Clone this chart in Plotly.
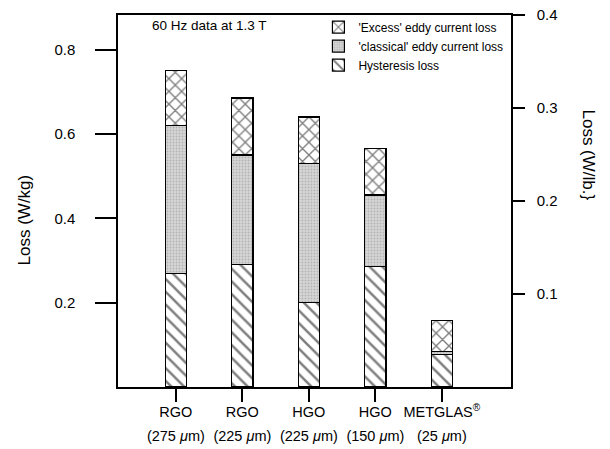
import plotly.graph_objects as go

materials = ["RGO", "RGO", "HGO", "HGO", "METGLAS<sup>®</sup>"]
thickness = ["(275 <i>μ</i>m)", "(225 <i>μ</i>m)", "(225 <i>μ</i>m)",
             "(150 <i>μ</i>m)", "(25 <i>μ</i>m)"]
hysteresis = [0.27, 0.29, 0.20, 0.285, 0.078]
classical = [0.35, 0.26, 0.33, 0.17, 0.006]
excess = [0.13, 0.135, 0.11, 0.11, 0.073]
left_ticks = [0.2, 0.4, 0.6, 0.8]
right_ticks = [0.1, 0.2, 0.3, 0.4]
KG_PER_LB = 2.2046

pos = list(range(len(materials)))
FONT = "Liberation Sans, Arial, sans-serif"
XRANGE = [-0.87, 5.04]

fig = go.Figure()
line = dict(color="black", width=1.2)
fig.add_trace(go.Bar(x=pos, y=hysteresis, name="Hysteresis loss", width=0.32,
                     marker=dict(color="white", line=line,
                                 pattern=dict(shape="\\", fgcolor="black", bgcolor="white",
                                              size=9, solidity=0.28))))
fig.add_trace(go.Bar(x=pos, y=classical, name="'classical' eddy current loss", width=0.32,
                     marker=dict(color="#d0d0d0", line=line,
                                 pattern=dict(shape=".", fgcolor="#8f8f8f", bgcolor="#d6d6d6",
                                              size=3, solidity=0.3))))
fig.add_trace(go.Bar(x=pos, y=excess, name="'Excess' eddy current loss", width=0.32,
                     marker=dict(color="white", line=line,
                                 pattern=dict(shape="x", fgcolor="black", bgcolor="white",
                                              size=9, solidity=0.28))))
# invisible traces so the right-hand (W/lb.) axis and second label row are drawn
fig.add_trace(go.Scatter(x=[None], y=[None], yaxis="y2", showlegend=False,
                         hoverinfo="skip", mode="markers"))
fig.add_trace(go.Scatter(x=[None], y=[None], xaxis="x2", showlegend=False,
                         hoverinfo="skip", mode="markers"))

top_kg = 0.4 * KG_PER_LB

fig.update_layout(
    width=610, height=449,
    margin=dict(l=118, r=99, t=15, b=62, autoexpand=False),
    paper_bgcolor="white", plot_bgcolor="white",
    barmode="stack",
    font=dict(family=FONT, color="black", size=13),
    showlegend=True,
    legend=dict(x=0.51, y=0.972, xanchor="left", yanchor="top", yref="container",
                traceorder="reversed", bgcolor="rgba(0,0,0,0)",
                font=dict(size=12, family=FONT)),
    xaxis=dict(range=XRANGE, tickvals=pos, ticktext=materials, automargin=False,
               showline=True, linecolor="black", linewidth=1.5, mirror=True,
               ticks="outside", ticklen=13, tickcolor="black", tickwidth=1.5,
               ticklabelstandoff=-2,
               showgrid=False, zeroline=False, tickfont=dict(size=14.5)),
    xaxis2=dict(range=XRANGE, tickvals=pos, ticktext=thickness, automargin=False,
                overlaying="x", side="bottom", anchor="y",
                showline=False, ticks="outside", ticklen=13, tickcolor="rgba(0,0,0,0)",
                ticklabelstandoff=23,
                showgrid=False, zeroline=False, tickfont=dict(size=14.5)),
    yaxis=dict(range=[0, top_kg], tickvals=left_ticks, tickformat=".1f", automargin=False,
               showline=True, linecolor="black", linewidth=1.5, mirror=True,
               ticks="outside", ticklen=21, tickcolor="black", tickwidth=1.5,
               ticklabelstandoff=17,
               showgrid=False, zeroline=False, tickfont=dict(size=15)),
    yaxis2=dict(range=[0, 0.4], tickvals=right_ticks, tickformat=".1f", automargin=False,
                overlaying="y", side="right", anchor="x",
                showline=True, linecolor="black", linewidth=1.5,
                ticks="outside", ticklen=12, tickcolor="black", tickwidth=1.5,
                ticklabelstandoff=9,
                showgrid=False, zeroline=False, tickfont=dict(size=15)),
    annotations=[
        dict(text="Loss (W/kg)", textangle=-90, x=-0.237, y=0.45, xref="paper", yref="paper",
             xanchor="center", yanchor="middle",
             showarrow=False, font=dict(size=17, family=FONT)),
        dict(text="Loss (W/lb.}", textangle=90, x=1.196, y=0.625, xref="paper", yref="paper",
             xanchor="center", yanchor="middle",
             showarrow=False, font=dict(size=17, family=FONT)),
        dict(text="60 Hz data at 1.3 T", x=0.081, y=0.973, xref="paper", yref="paper",
             xanchor="left", yanchor="middle", showarrow=False,
             font=dict(size=13.5, family=FONT)),
    ],
)

fig.write_html("out.html")
